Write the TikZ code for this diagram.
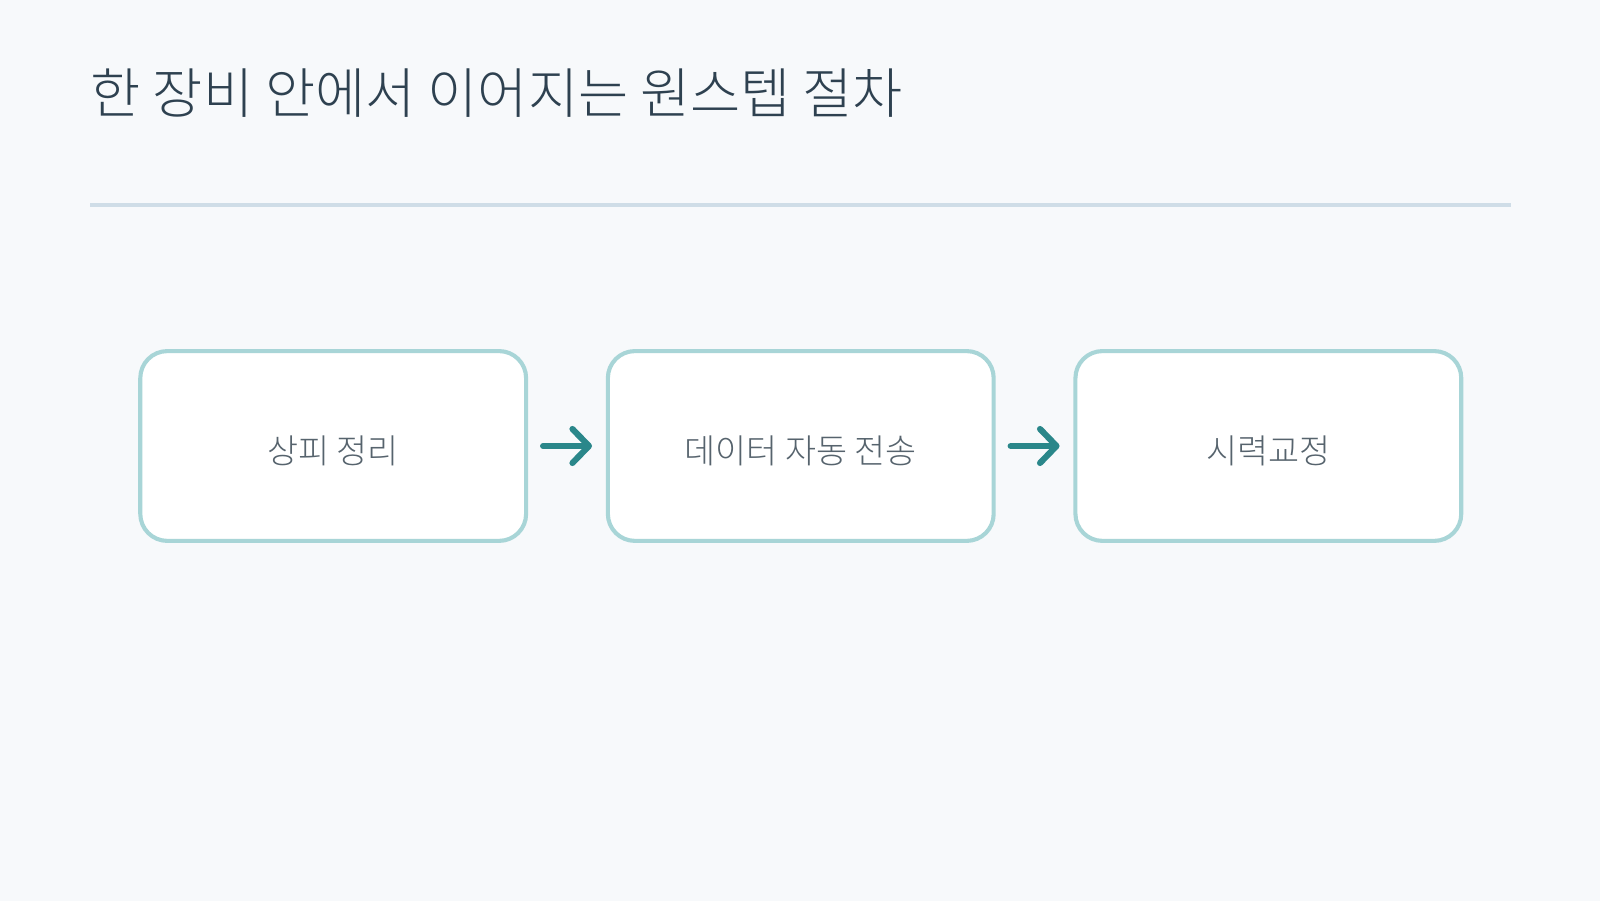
\documentclass[tikz,border=0pt]{standalone}
\usepackage{fontspec}
\setmainfont{Noto Sans CJK KR}[UprightFont=* Light]
\usetikzlibrary{positioning,arrows.meta}
\definecolor{pagebg}{HTML}{F7F9FB}
\definecolor{titlecol}{HTML}{2E4150}
\definecolor{rulecol}{HTML}{CFDDE7}
\definecolor{boxline}{HTML}{A8D5D7}
\definecolor{boxtext}{HTML}{56636D}
\definecolor{arrowcol}{HTML}{2A878A}

\begin{document}
\begin{tikzpicture}[x=0.01cm, y=-0.01cm]
\tikzset{stepbox/.style={draw=boxline, line width=0.041cm, fill=white, rounded corners=0.27cm,
    minimum width=3.856cm, minimum height=1.897cm, text height=10.3pt, text depth=0.5pt,
    font=\fontsize{9.6pt}{11pt}\selectfont, text=boxtext}}
\tikzset{flow/.style={arrowcol, line width=0.061cm, line cap=round,
    -{Straight Barb[length=0.165cm, width=0.34cm, round]}}}
    \fill[pagebg] (0,0) rectangle (1600,901);
    \useasboundingbox (0,0) rectangle (1600,901);

    \node[anchor=base west, inner sep=0, text=titlecol, font=\fontsize{15.5pt}{18pt}\selectfont] (title) at (90,114) {한 장비 안에서 이어지는 원스텝 절차};
    \draw[rulecol, line width=0.031cm] (90,205) -- (1511,205);

    \node[stepbox] (sangpi) at (333.2,446) {상피 정리};
    \node[stepbox, right=0.776cm of sangpi] (data) {데이터 자동 전송};
    \node[stepbox, right=0.776cm of data] (vision) {시력교정};

    \draw[flow] ([xshift=0.149cm]sangpi.east) -- ([xshift=-0.138cm]data.west);
    \draw[flow] ([xshift=0.149cm]data.east) -- ([xshift=-0.138cm]vision.west);
\end{tikzpicture}
\end{document}
